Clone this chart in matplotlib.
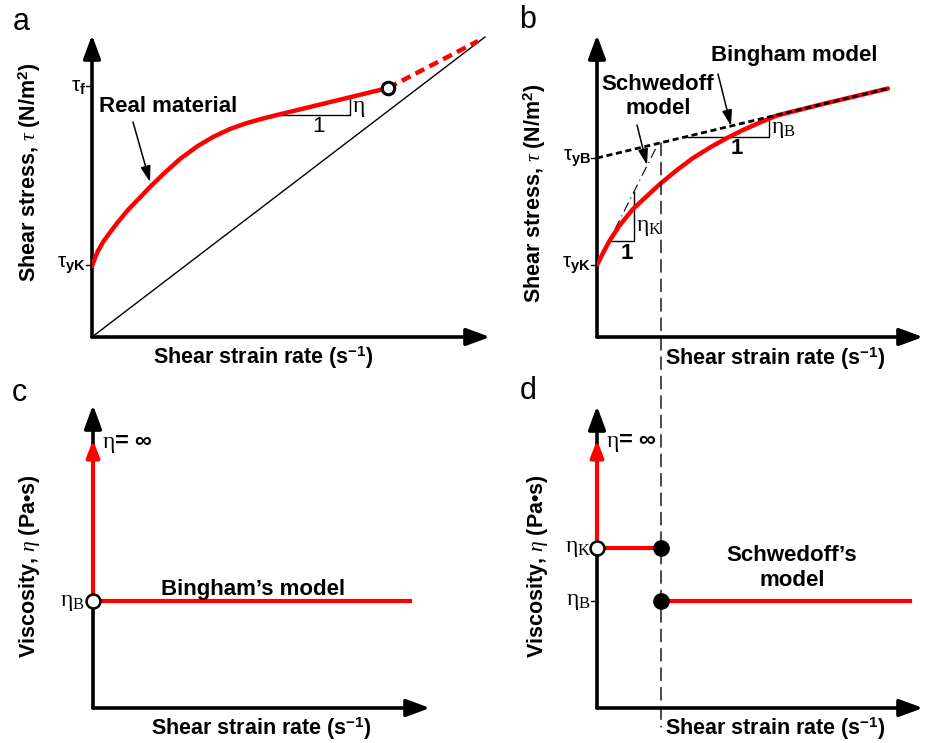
import matplotlib
matplotlib.use('Agg')
import matplotlib.pyplot as plt
from matplotlib.patches import ConnectionPatch

plt.rcParams['font.family'] = ['Liberation Sans', 'DejaVu Sans']
plt.rcParams['mathtext.fontset'] = 'custom'
plt.rcParams['mathtext.rm'] = 'Liberation Serif'
plt.rcParams['mathtext.it'] = 'Liberation Serif:italic'
plt.rcParams['mathtext.bf'] = 'Liberation Sans:bold'
plt.rcParams['mathtext.sf'] = 'Liberation Sans'

# ---- panel a : real material ----
a_curve_x = [0, 0.3, 0.6, 1.1, 1.8, 2.6, 3.6, 4.8, 6.0, 7.3, 8.8, 10.5, 12.1, 13.8, 15.5, 17.1, 18.5, 29.6]
a_curve_y = [7.1, 7.9, 8.6, 9.5, 10.45, 11.5, 12.7, 13.95, 15.2, 16.45, 17.8, 19.05, 20.0, 20.8, 21.4, 21.85, 22.2, 24.9]
a_dash_x = [29.6, 38.6]
a_dash_y = [24.9, 29.6]
a_line_x = [0, 39.3]
a_line_y = [0, 30.0]
a_tri_x = [18.5, 25.8, 25.8]
a_tri_y = [22.2, 22.2, 24.0]
a_ticks = [25.1, 7.2]
a_tick_labels = [r'$\mathsf{\tau}_{\mathbf{f}}$', r'$\mathsf{\tau}_{\mathbf{yK}}$']

# ---- panel b : Bingham vs Schwedoff ----
b_curve_x = [0, 0.6, 1.3, 2.3, 3.6, 5.0, 6.3, 8.0, 9.6, 11.3, 13.0, 14.6, 16.3, 18.0, 22.6, 29.1]
b_curve_y = [7.2, 8.4, 9.7, 11.2, 12.8, 14.1, 15.3, 16.7, 17.9, 18.95, 19.9, 20.7, 21.45, 22.15, 23.3, 24.85]
bingham_x = [0, 29.1]
bingham_y = [17.9, 24.85]
schwedoff_x = [0, 6.1]
schwedoff_y = [7.2, 19.3]
b_triK_x = [1.2, 3.7, 3.7]
b_triK_y = [9.6, 9.6, 14.5]
b_triB_x = [8.8, 17.2, 17.2]
b_triB_y = [20.0, 20.0, 22.0]
b_ticks = [17.9, 7.2]
b_tick_labels = [r'$\mathsf{\tau}_{\mathbf{yB}}$', r'$\mathsf{\tau}_{\mathbf{yK}}$']
gamma_K = 6.4

# ---- panel c : Bingham viscosity ----
c_eta_B = 10.7
c_eta_top = 26.8
c_line_end = 31.7

# ---- panel d : Schwedoff viscosity ----
d_eta_K = 16.0
d_eta_B = 10.7
d_eta_top = 26.8
d_line_end = 31.3

W, H = 925, 743
fig = plt.figure(figsize=(W / 100, H / 100), dpi=100)

RED = '#ff0000'
BOLD = dict(fontweight='bold')
LBL = 15.5   # axis label size
TXT = 16     # annotation size


def make_axes(x0, y0, x1, y1):
    ax = fig.add_axes([x0 / W, 1 - y0 / H, (x1 - x0) / W, (y0 - y1) / H])
    ax.set_xlim(0, (x1 - x0) / 10)
    ax.set_ylim(0, (y0 - y1) / 10)
    ax.axis('off')
    for tip in [(1, 0), (0, 1)]:
        ax.annotate('', xy=tip, xytext=(0, 0), xycoords='axes fraction',
                    annotation_clip=False, zorder=1,
                    arrowprops=dict(arrowstyle='-|>,head_length=0.95,head_width=0.35',
                                    color='k', lw=2.6, shrinkA=0, shrinkB=0,
                                    mutation_scale=15))
    return ax


def pointer(ax, xy, xytext):
    ax.annotate('', xy=xy, xytext=xytext, annotation_clip=False,
                arrowprops=dict(arrowstyle='-|>,head_length=0.8,head_width=0.25',
                                color='k', lw=1.1, shrinkA=0, shrinkB=0,
                                mutation_scale=12))


def ticks(ax, ys, labels):
    for y, lab in zip(ys, labels):
        ax.plot([-0.6, 0], [y, y], color='k', lw=1, clip_on=False)
        ax.text(-0.6, y, lab, ha='right', va='center', fontsize=15)


def red_up(ax, y0, y1):
    ax.annotate('', xy=(0, y1), xytext=(0, y0), annotation_clip=False, zorder=3,
                arrowprops=dict(arrowstyle='-|>,head_length=0.9,head_width=0.35', color=RED,
                                lw=3, shrinkA=0, shrinkB=0, mutation_scale=11))


# panel a
axa = make_axes(92, 337, 490, 35)
axa.plot(a_line_x, a_line_y, color='k', lw=1, zorder=2)
axa.plot(a_curve_x, a_curve_y, color=RED, lw=3.2, solid_capstyle='round',
         solid_joinstyle='round', zorder=3)
axa.plot(a_dash_x, a_dash_y, color=RED, lw=3.2, ls=(0, (2.2, 1.3)), zorder=3)
axa.plot(a_tri_x, a_tri_y, color='k', lw=1, zorder=2)
axa.plot([a_curve_x[-1]], [a_curve_y[-1]], 'o', ms=9, mfc='white', mec='k', mew=2.2, zorder=5)
axa.text(26.0, 22.9, r'$\mathrm{\eta}$', fontsize=17, ha='left', va='center')
axa.text(22.6, 21.0, '1', fontsize=16, ha='center', va='center')
axa.text(7.6, 23.0, 'Real material', fontsize=TXT, ha='center', va='center', **BOLD)
pointer(axa, (5.8, 15.5), (4.1, 21.5))
ticks(axa, a_ticks, a_tick_labels)
axa.text(-6.2, 16.5, r'Shear stress, $\mathit{\tau}$ (N/m$^{\mathbf{2}}$)', rotation=90,
         ha='center', va='center', fontsize=LBL, **BOLD)
axa.text(17.1, -2.1, r'Shear strain rate (s$^{\mathbf{-1}}$)', ha='center', va='center',
         fontsize=LBL, **BOLD)

# panel b
axb = make_axes(597, 337, 923, 35)
axb.plot(b_curve_x, b_curve_y, color=RED, lw=3.2, solid_capstyle='round',
         solid_joinstyle='round', zorder=3)
axb.plot(bingham_x, bingham_y, color='k', lw=2, ls=(0, (2.2, 1.3)), zorder=4)
axb.plot(schwedoff_x, schwedoff_y, color='k', lw=0.8, ls=(0, (9, 4, 1, 4)), zorder=2)
axb.plot(b_triK_x, b_triK_y, color='k', lw=1, zorder=2)
axb.plot(b_triB_x, b_triB_y, color='k', lw=1, zorder=2)
axb.text(3.9, 11.0, r'$\mathrm{\eta}_{\mathrm{K}}$', fontsize=17, ha='left', va='center')
axb.text(17.4, 20.8, r'$\mathrm{\eta}_{\mathrm{B}}$', fontsize=17, ha='left', va='center')
axb.text(3.0, 8.3, '1', fontsize=16, ha='center', va='center', **BOLD)
axb.text(14.0, 18.8, '1', fontsize=16, ha='center', va='center', **BOLD)
axb.text(19.7, 28.2, 'Bingham model', fontsize=TXT, ha='center', va='center', **BOLD)
pointer(axb, (13.4, 21.1), (12.1, 26.3))
axb.text(6.1, 24.05, 'Schwedoff\nmodel', fontsize=TXT, ha='center', va='center',
         linespacing=1.2, **BOLD)
pointer(axb, (5.0, 17.2), (4.0, 21.2))
ticks(axb, b_ticks, b_tick_labels)
axb.text(-6.2, 14.4, r'Shear stress, $\mathit{\tau}$ (N/m$^{\mathbf{2}}$)', rotation=90,
         ha='center', va='center', fontsize=LBL, **BOLD)
axb.text(17.8, -2.2, r'Shear strain rate (s$^{\mathbf{-1}}$)', ha='center', va='center',
         fontsize=LBL, **BOLD)

# panel c
axc = make_axes(93, 708, 430, 405)
red_up(axc, c_eta_B, c_eta_top)
axc.plot([0, c_line_end], [c_eta_B, c_eta_B], color=RED, lw=3, zorder=3)
axc.plot([0], [c_eta_B], 'o', ms=10, mfc='white', mec='k', mew=1.8, zorder=5, clip_on=False)
axc.text(0.9, 26.5, r'$\mathrm{\eta}$= ∞', fontsize=17, ha='left', va='center', **BOLD)
axc.text(-0.8, c_eta_B - 0.1, r'$\mathrm{\eta}_{\mathrm{B}}$', fontsize=17, ha='right', va='center')
axc.text(16.0, 11.9, 'Bingham\u2019s model', fontsize=TXT, ha='center', va='center', **BOLD)
axc.text(-6.3, 14.2, r'Viscosity, $\mathit{\eta}$ (Pa•s)', rotation=90,
         ha='center', va='center', fontsize=LBL, **BOLD)
axc.text(16.8, -2.1, r'Shear strain rate (s$^{\mathbf{-1}}$)', ha='center', va='center',
         fontsize=LBL, **BOLD)

# panel d
axd = make_axes(597, 708, 923, 406)
red_up(axd, d_eta_K, d_eta_top)
axd.plot([0, gamma_K], [d_eta_K, d_eta_K], color=RED, lw=3, zorder=3)
axd.plot([gamma_K, d_line_end], [d_eta_B, d_eta_B], color=RED, lw=3, zorder=3)
axd.plot([0], [d_eta_K], 'o', ms=10, mfc='white', mec='k', mew=1.8, zorder=5, clip_on=False)
axd.plot([gamma_K, gamma_K], [d_eta_K, d_eta_B], 'o', ms=11, color='k', zorder=5, lw=0)
axd.plot([-0.6, 0], [d_eta_B, d_eta_B], color='k', lw=1, clip_on=False)
axd.text(0.9, 26.6, r'$\mathrm{\eta}$= ∞', fontsize=17, ha='left', va='center', **BOLD)
axd.text(-0.6, d_eta_K, r'$\mathrm{\eta}_{\mathrm{K}}$', fontsize=17, ha='right', va='center')
axd.text(-0.6, d_eta_B, r'$\mathrm{\eta}_{\mathrm{B}}$', fontsize=17, ha='right', va='center')
axd.text(19.5, 14.0, 'Schwedoff\u2019s\nmodel', fontsize=TXT, ha='center', va='center',
         linespacing=1.2, **BOLD)
axd.text(-6.0, 14.2, r'Viscosity, $\mathit{\eta}$ (Pa•s)', rotation=90,
         ha='center', va='center', fontsize=LBL, **BOLD)
axd.text(17.8, -2.1, r'Shear strain rate (s$^{\mathbf{-1}}$)', ha='center', va='center',
         fontsize=LBL, **BOLD)

# vertical dashed line linking b and d at the Schwedoff/Bingham transition
con = ConnectionPatch(xyA=(gamma_K, 19.4), coordsA=axb.transData,
                      xyB=(gamma_K, -1.9), coordsB=axd.transData,
                      color='k', lw=1, linestyle=(0, (9, 5)))
fig.add_artist(con)

# panel letters
for lab, px, py in [('a', 21, 22), ('b', 528, 20), ('c', 19, 393), ('d', 528, 391)]:
    fig.text(px / W, 1 - py / H, lab, fontsize=22, ha='center', va='center')

fig.savefig('out.png', dpi=100)
